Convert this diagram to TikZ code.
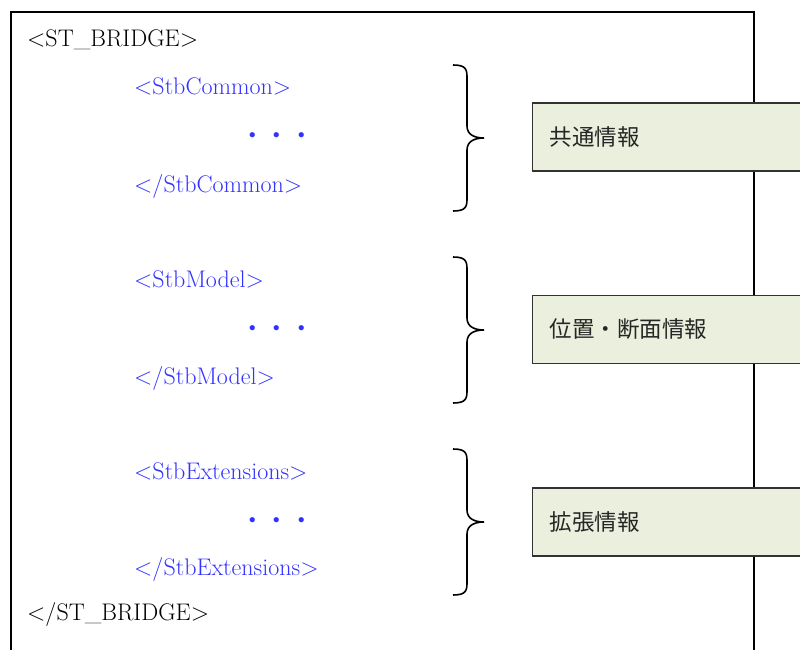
\documentclass[tikz,border=0pt]{standalone}
\usepackage{fontspec}
\newfontfamily\jpfont{Noto Sans CJK JP}
\definecolor{tagblue}{RGB}{50,50,255}
\definecolor{boxgreen}{RGB}{234,240,221}
\definecolor{boxedge}{RGB}{50,50,50}
\begin{document}
\begin{tikzpicture}[x=1pt,y=-1pt,
  frame/.style={line width=1.8pt},
  roottag/.style={anchor=base west,inner sep=0pt,font=\fontsize{24}{28}\selectfont},
  childtag/.style={roottag,text=tagblue},
  ellip/.style={anchor=west,inner sep=0pt,text=tagblue,font=\jpfont\fontsize{24.5}{26}\selectfont},
  labelbox/.style={draw=boxedge,line width=1.2pt,fill=boxgreen,anchor=west,
    minimum height=68pt,text width=258pt,inner xsep=17pt,align=left,
    text=black!85,font=\jpfont\fontsize{22.5}{26}\selectfont},
  bracestyle/.style={line width=1.6pt},
  pics/curly/.style={code={
    \draw[bracestyle] (0,0) .. controls (14,0) and (14,5) .. (14,14)
      -- (14,61) .. controls (14,70) and (22,73) .. (31,73)
      .. controls (22,73) and (14,76) .. (14,85)
      -- (14,132) .. controls (14,141) and (14,146) .. (0,146);
  }}]
\useasboundingbox (0,0) rectangle (800,650);
\clip (0,0) rectangle (800,650);
% outer frame (open at the bottom)
\coordinate (fbl) at (11,652);
\coordinate (ftl) at (11,12);
\coordinate (ftr) at (754,12);
\coordinate (fbr) at (754,652);
\draw[frame] (fbl) -- (ftl) -- (ftr) -- (fbr);
% tags
\node[roottag] (root) at (27,47) {<ST\_BRIDGE>};
\node[childtag] (c1) at (134,95) {<StbCommon>};
\node[ellip] (d1) at (240,139) {・・・};
\node[childtag] (c2) at (134,192) {</StbCommon>};
\node[childtag] (m1) at (134,287) {<StbModel>};
\node[ellip] (d2) at (240,332) {・・・};
\node[childtag] (m2) at (134,384) {</StbModel>};
\node[childtag] (e1) at (134,479) {<StbExtensions>};
\node[ellip] (d3) at (240,524) {・・・};
\node[childtag] (e2) at (134,575) {</StbExtensions>};
\node[roottag] (rootend) at (27,620) {</ST\_BRIDGE>};
% braces
\pic at (453,65) {curly};
\pic at (453,257) {curly};
\pic at (453,449) {curly};
% label boxes
\node[labelbox] (b1) at (532,137) {共通情報};
\node[labelbox] (b2) at (532,329.5) {位置・断面情報};
\node[labelbox] (b3) at (532,522) {拡張情報};
\end{tikzpicture}
\end{document}
